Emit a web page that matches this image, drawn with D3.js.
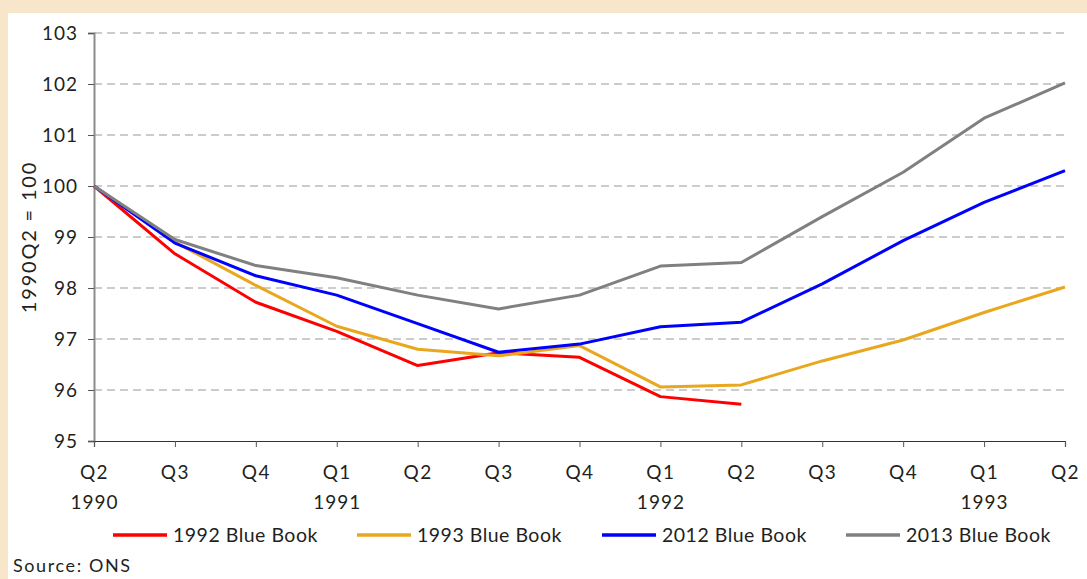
<!DOCTYPE html>
<html><head><meta charset="utf-8">
<script src="https://cdn.jsdelivr.net/npm/d3@7"></script>
<style>
html,body{margin:0;padding:0;background:#f7e6c9;}
svg{display:block;}
text{font-family:"Lato","Open Sans",sans-serif;fill:#231f20;}
</style></head>
<body>
<svg id="chart" width="1087" height="579"></svg>
<script>
const quarters = ["Q2","Q3","Q4","Q1","Q2","Q3","Q4","Q1","Q2","Q3","Q4","Q1","Q2"];
const years = ["1990","","","1991","","","","1992","","","","1993",""];
const yTicks = [95,96,97,98,99,100,101,102,103];
const bb1992 = [100,98.67,97.72,97.15,96.48,96.73,96.64,95.87,95.72];
const bb1993 = [100,98.9,98.05,97.25,96.8,96.67,96.87,96.06,96.1,96.57,96.98,97.52,98.02];
const bb2012 = [100,98.88,98.24,97.86,97.3,96.74,96.9,97.24,97.33,98.08,98.93,99.68,100.3];
const bb2013 = [100,98.95,98.44,98.2,97.86,97.59,97.86,98.43,98.5,99.4,100.27,101.33,102.02];
const seriesNames = ["1992 Blue Book","1993 Blue Book","2012 Blue Book","2013 Blue Book"];
const seriesColors = ["#ff0000","#e9a71d","#0000ff","#808080"];
const seriesData = [bb1992,bb1993,bb2012,bb2013];

const svg = d3.select("#chart");
svg.append("rect").attr("x",8).attr("y",13).attr("width",1079).attr("height",566).attr("fill","#fff");

const idx = d3.range(quarters.length);
const x = d3.scaleLinear().domain([0, quarters.length-1]).range([94,1065]);
const y = d3.scaleLinear().domain([95,103]).range([441,33]);
const FONT = "Lato, 'Open Sans', sans-serif";

// gridlines
svg.append("g").selectAll("line").data(yTicks.filter(v=>v>95)).join("line")
  .attr("x1",94).attr("x2",1065).attr("y1",d=>y(d)).attr("y2",d=>y(d))
  .attr("stroke","#999").attr("stroke-width",1).attr("stroke-dasharray","8,5");

// y axis
const yAxis = d3.axisLeft(y).tickValues(yTicks).tickSize(6).tickPadding(10).tickFormat(d3.format("d"));
const gy = svg.append("g").attr("transform","translate(94,0)").call(yAxis);
gy.select(".domain").attr("stroke","#8c8c8c").attr("stroke-width",2);
gy.selectAll(".tick line").attr("stroke","#555");
gy.selectAll("text").attr("font-size",19).attr("letter-spacing",1).attr("fill","#231f20").attr("font-family",FONT);

// x axis
const xAxis = d3.axisBottom(x).tickValues(idx).tickSize(6).tickPadding(19).tickFormat(i=>quarters[i]);
const gx = svg.append("g").attr("transform","translate(0,441)").call(xAxis);
gx.select(".domain").attr("stroke","#333").attr("stroke-width",1.2);
gx.selectAll(".tick line").attr("stroke","#555");
gx.selectAll("text").attr("font-size",19).attr("letter-spacing",1.5).attr("fill","#231f20").attr("font-family",FONT);
gx.selectAll(".tick").append("text").attr("y",68).attr("text-anchor","middle")
  .attr("font-size",19).attr("letter-spacing",1).attr("fill","#231f20").attr("font-family",FONT).text(i=>years[i]);

// y title
svg.append("text").attr("transform","translate(36,237) rotate(-90)")
  .attr("text-anchor","middle").attr("font-size",20).attr("letter-spacing",1.8).text("1990Q2 = 100");

// lines
const line = d3.line().x((d,i)=>x(i)).y(d=>y(d));
svg.append("g").selectAll("path").data(seriesData).join("path")
  .attr("d",line).attr("fill","none").attr("stroke",(d,i)=>seriesColors[i])
  .attr("stroke-width",3).attr("stroke-linejoin","round");

// legend
const legX = [113,357,602,846];
const lg = svg.append("g").selectAll("g").data(seriesNames).join("g")
  .attr("transform",(d,i)=>`translate(${legX[i]},535)`);
lg.append("line").attr("x1",0).attr("x2",54).attr("y1",0).attr("y2",0)
  .attr("stroke",(d,i)=>seriesColors[i]).attr("stroke-width",3.5);
lg.append("text").attr("x",60).attr("y",7).attr("font-size",19.5).attr("letter-spacing",0.5).text(d=>d);

svg.append("text").attr("x",13).attr("y",572).attr("font-size",18).attr("letter-spacing",1.6).text("Source: ONS");
</script>
</body></html>
